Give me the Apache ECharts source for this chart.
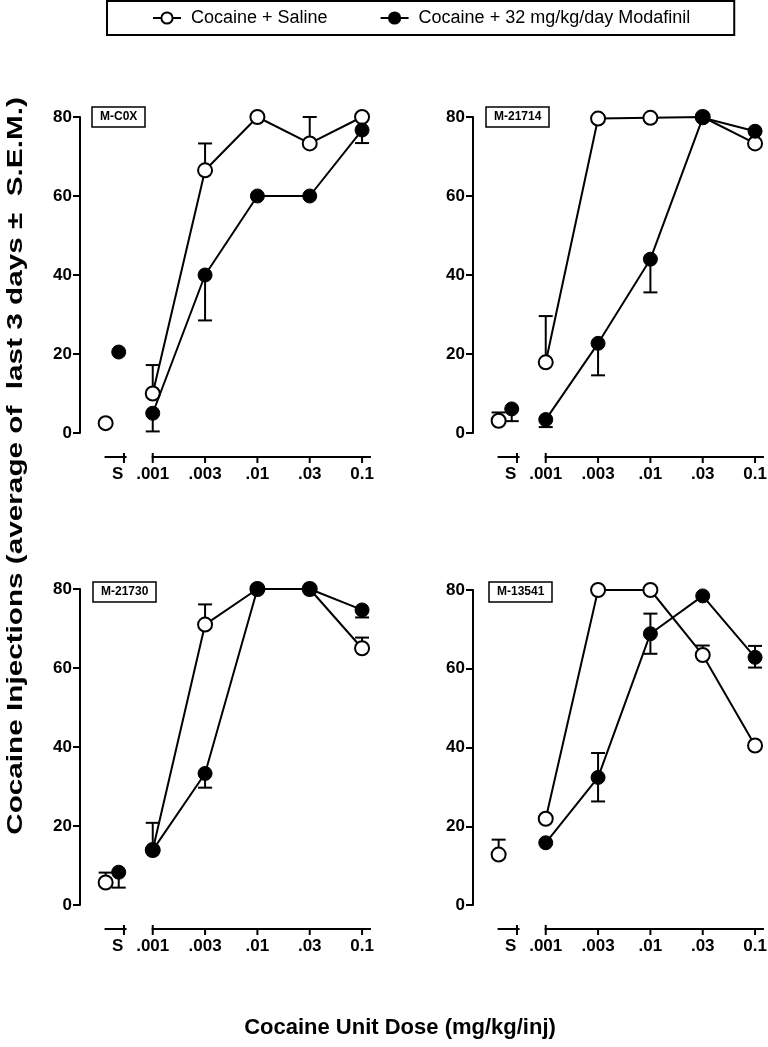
<!DOCTYPE html>
<html><head><meta charset="utf-8">
<script src="https://cdn.jsdelivr.net/npm/echarts@6/dist/echarts.min.js"></script>
<style>html,body{margin:0;padding:0;background:#fff}#c{width:768px;height:1047px}</style>
</head><body><div id="c"></div>
<script>
// ---------- data ----------
const panelNames = ['M-C0X', 'M-21714', 'M-21730', 'M-13541'];
const doseLabels = ['S', '.001', '.003', '.01', '.03', '0.1'];
const seriesNames = ['Cocaine + Saline', 'Cocaine + 32 mg/kg/day Modafinil'];
const salineMean = [
  [2.5, 10, 66.5, 80, 73.3, 80],
  [3.1, 17.9, 79.6, 79.8, 80, 73.3],
  [5.7, 13.9, 71, 80, 80, 65],
  [12.8, 21.9, 80, 80, 63.5, 40.5]
];
const salineSemUp = [
  [0, 7.2, 6.8, 0, 6.7, 0],
  [2.1, 11.7, 0, 0, 0, 0],
  [2.5, 6.9, 5.1, 0, 0, 2.7],
  [3.8, 0, 0, 0, 2.4, 0]
];
const salineSemDown = [
  [0, 0, 0, 0, 0, 0],
  [0, 0, 0, 0, 0, 0],
  [0, 0, 0, 0, 0, 0],
  [0, 0, 0, 0, 0, 0]
];
const modafinilMean = [
  [20.5, 5, 40, 60, 60, 76.7],
  [6.1, 3.4, 22.7, 44, 79.8, 76.4],
  [8.3, 13.9, 33.3, 80, 80, 74.7],
  [null, 15.8, 32.4, 68.9, 78.5, 62.9]
];
const modafinilSemUp = [
  [0, 0, 0, 0, 0, 0],
  [0, 0, 0, 0, 0, 0],
  [0, 0, 0, 0, 0, 0],
  [0, 0, 6.2, 5.1, 0, 2.9]
];
const modafinilSemDown = [
  [0, 4.6, 11.5, 0, 0, 3.3],
  [3.1, 1.9, 8.1, 8.4, 0, 0],
  [3.9, 0, 3.6, 0, 0, 1.9],
  [0, 0, 6.1, 5.1, 0, 2.6]
];
const yTickValues = [0, 20, 40, 60, 80];
const yTitle = 'Cocaine Injections (average of  last 3 days \u00b1  S.E.M.)';
const xTitle = 'Cocaine Unit Dose (mg/kg/inj)';

// ---------- layout ----------
const FONT = '"Liberation Sans", Arial, Helvetica, sans-serif';
const grids = [
  {left: 80, top: 117, width: 292, height: 316},
  {left: 473, top: 117, width: 292, height: 316},
  {left: 80, top: 589, width: 292, height: 316},
  {left: 473, top: 590, width: 292, height: 315}
];
const boxPos = [[92, 107], [486, 107], [93, 582], [489, 582]];
const X_MIN = -1.39, X_MAX = 4.19;
const salineSX = -0.9, modSX = -0.65;   // horizontal spread of the two points at S
const sLabelX = -0.67, sTickX = -0.55;
const sSeg = [-0.92, -0.5], mainSeg = [-0.02, 4.17];
const AXIS_DROP = 24;
const doseX = i => i - 1; // dose index 1..5 -> 0..4

const series = [];
for (let p = 0; p < 4; p++) {
  // error bars
  const errData = [];
  for (let i = 0; i < 6; i++) {
    if (salineMean[p][i] != null)
      errData.push([i === 0 ? salineSX : doseX(i), salineMean[p][i], salineSemUp[p][i], salineSemDown[p][i]]);
    if (modafinilMean[p][i] != null)
      errData.push([i === 0 ? modSX : doseX(i), modafinilMean[p][i], modafinilSemUp[p][i], modafinilSemDown[p][i]]);
  }
  series.push({
    type: 'custom', xAxisIndex: p, yAxisIndex: p, z: 1, silent: true,
    data: errData, encode: {x: 0, y: 1},
    renderItem(params, api) {
      const x = api.value(0), m = api.value(1), up = api.value(2), dn = api.value(3);
      const pm = api.coord([x, m]);
      const ch = [];
      const st = {stroke: '#000', lineWidth: 2};
      [[up, 1], [dn, -1]].forEach(([s, d]) => {
        if (s > 0) {
          const pt = api.coord([x, m + d * s]);
          ch.push({type: 'line', shape: {x1: pm[0], y1: pm[1], x2: pt[0], y2: pt[1]}, style: st});
          ch.push({type: 'line', shape: {x1: pt[0] - 7, y1: pt[1], x2: pt[0] + 7, y2: pt[1]}, style: st});
        }
      });
      return {type: 'group', children: ch};
    }
  });
  // broken x axis
  series.push({
    type: 'custom', xAxisIndex: p, yAxisIndex: p, z: 1, silent: true,
    data: [[0, 0]], encode: {x: 0, y: 1},
    renderItem(params, api) {
      const y0 = api.coord([0, 0])[1] + AXIS_DROP;
      const st = {stroke: '#000', lineWidth: 2};
      const ch = [];
      const seg = (a, b) => ch.push({type: 'line', shape: {x1: api.coord([a, 0])[0], y1: y0, x2: api.coord([b, 0])[0], y2: y0}, style: st});
      seg(sSeg[0], sSeg[1]);
      seg(mainSeg[0], mainSeg[1]);
      const tick = (x, up) => {
        const px = api.coord([x, 0])[0];
        ch.push({type: 'line', shape: {x1: px, y1: y0 - up, x2: px, y2: y0 + 6}, style: st});
      };
      tick(sTickX, 4);
      for (let i = 1; i < 6; i++) tick(doseX(i), i === 1 ? 4 : 0);
      for (let i = 0; i < 6; i++) {
        const px = api.coord([i === 0 ? sLabelX : doseX(i), 0])[0];
        ch.push({type: 'text', style: {text: doseLabels[i], x: px, y: y0 + 17, align: 'center', verticalAlign: 'middle',
          font: 'bold 17px ' + FONT, fill: '#000'}});
      }
      return {type: 'group', children: ch};
    }
  });
  const openStyle = {color: '#fff', borderColor: '#000', borderWidth: 2, opacity: 1};
  const fillStyle = {color: '#000', borderColor: '#000', borderWidth: 1, opacity: 1};
  series.push({
    name: seriesNames[0], type: 'line', xAxisIndex: p, yAxisIndex: p, z: 3, clip: false,
    data: salineMean[p].slice(1).map((v, k) => [k, v]),
    symbol: 'circle', symbolSize: 14, itemStyle: openStyle,
    lineStyle: {color: '#000', width: 2}, animation: false
  });
  series.push({
    name: 'salineS', type: 'scatter', xAxisIndex: p, yAxisIndex: p, z: 3, clip: false,
    data: salineMean[p][0] != null ? [[salineSX, salineMean[p][0]]] : [],
    symbol: 'circle', symbolSize: 14, itemStyle: openStyle, animation: false
  });
  series.push({
    name: seriesNames[1], type: 'line', xAxisIndex: p, yAxisIndex: p, z: 4, clip: false,
    data: modafinilMean[p].slice(1).map((v, k) => [k, v]),
    symbol: 'circle', symbolSize: 14, itemStyle: fillStyle,
    lineStyle: {color: '#000', width: 2}, animation: false
  });
  series.push({
    name: 'modS', type: 'scatter', xAxisIndex: p, yAxisIndex: p, z: 4, clip: false,
    data: modafinilMean[p][0] != null ? [[modSX, modafinilMean[p][0]]] : [],
    symbol: 'circle', symbolSize: 14, itemStyle: fillStyle, animation: false
  });
}

const option = {
  backgroundColor: '#fff',
  animation: false,
  textStyle: {fontFamily: FONT},
  grid: grids,
  xAxis: grids.map((g, p) => ({gridIndex: p, type: 'value', min: X_MIN, max: X_MAX, show: false})),
  yAxis: grids.map((g, p) => ({
    gridIndex: p, type: 'value', min: yTickValues[0], max: yTickValues[yTickValues.length - 1],
    interval: yTickValues[1] - yTickValues[0],
    axisLine: {show: true, onZero: false, lineStyle: {color: '#000', width: 2}},
    axisTick: {show: true, length: 7, lineStyle: {color: '#000', width: 2}},
    axisLabel: {color: '#000', fontSize: 17, fontWeight: 'bold', fontFamily: FONT, margin: 8},
    splitLine: {show: false}
  })),
  title: panelNames.map((n, p) => ({
    text: n, left: boxPos[p][0], top: boxPos[p][1], padding: [4, 8],
    borderColor: '#000', borderWidth: 1.5, backgroundColor: '#fff',
    textStyle: {fontSize: 12, fontWeight: 'bold', color: '#000', fontFamily: FONT}
  })),
  legend: {
    data: seriesNames, left: 107, top: 1, padding: [8, 44, 8, 45], itemGap: 52,
    borderColor: '#000', borderWidth: 2, itemWidth: 28, itemHeight: 14,
    formatter: n => ' ' + n,
    textStyle: {fontSize: 18, color: '#000', fontFamily: FONT}
  },
  graphic: [
    {type: 'text', x: 16, y: 466, rotation: Math.PI / 2, scaleX: 1.35,
     style: {text: yTitle, font: 'bold 22px ' + FONT, fill: '#000', align: 'center', verticalAlign: 'middle'}},
    {type: 'text', x: 400, y: 1028,
     style: {text: xTitle, font: 'bold 22px ' + FONT, fill: '#000', align: 'center', verticalAlign: 'middle'}}
  ],
  series
};
const chart = echarts.init(document.getElementById('c'), null, {renderer: 'canvas'});
chart.setOption(option);
</script></body></html>
